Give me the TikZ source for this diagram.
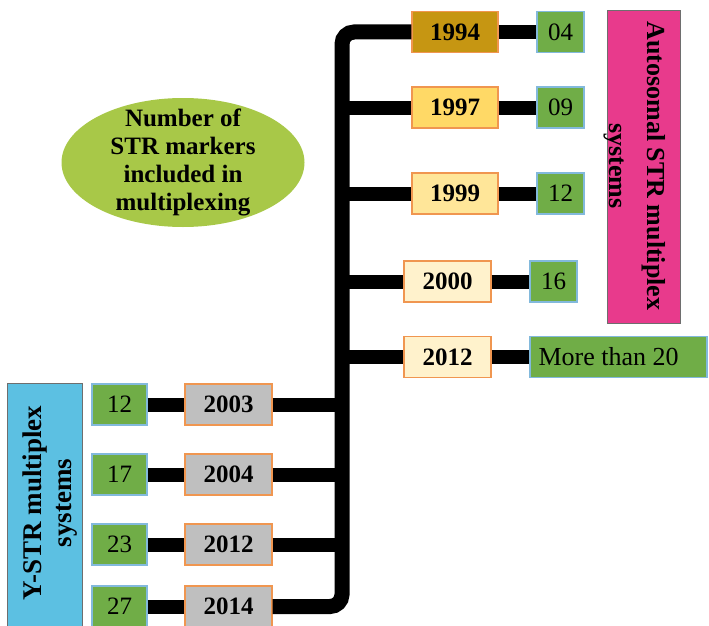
\documentclass[tikz,border=0pt]{standalone}
\usepackage{fontspec}
\setmainfont{Liberation Serif}
\usetikzlibrary{shapes.geometric}

\definecolor{goldA}{RGB}{198,150,18}
\definecolor{goldB}{RGB}{255,217,102}
\definecolor{goldC}{RGB}{255,230,153}
\definecolor{goldD}{RGB}{255,242,204}
\definecolor{edgeOrange}{RGB}{240,150,80}
\definecolor{countGreen}{RGB}{112,173,71}
\definecolor{edgeBlue}{RGB}{130,185,220}
\definecolor{yearGray}{RGB}{191,191,191}
\definecolor{autoPink}{RGB}{232,58,140}
\definecolor{ystrCyan}{RGB}{92,192,226}
\definecolor{ovalGreen}{RGB}{168,200,72}
\definecolor{edgeGray}{RGB}{110,110,110}

\tikzset{
  yearbox/.style={draw=edgeOrange, line width=1.2pt, inner sep=0pt,
    minimum width=86pt, minimum height=41pt,
    font=\fontsize{25}{28}\selectfont\bfseries},
  countbox/.style={draw=edgeBlue, fill=countGreen, line width=1.2pt, inner sep=0pt,
    minimum width=47pt, minimum height=41pt,
    font=\fontsize{25}{28}\selectfont},
  groupbox/.style={draw=edgeGray, line width=1pt, inner sep=0pt},
  grouptext/.style={inner sep=0pt, align=center},
  bar/.style={line width=14pt, black},
  trunkline/.style={line width=15pt, black, rounded corners=12pt},
}

\begin{document}
\begin{tikzpicture}[x=1pt,y=-1pt]
\useasboundingbox (0,0) rectangle (709,626);
\clip (0,0) rectangle (709,626);

% x position of the main vertical line
\coordinate (trunk) at (342,0);

% autosomal years (right branch)
\node[yearbox, fill=goldA] (y1994) at (455,32) {1994};
\node[yearbox, fill=goldB] (y1997) at (455,107.5) {1997};
\node[yearbox, fill=goldC] (y1999) at (455,193.5) {1999};
\node[yearbox, fill=goldD, minimum width=87pt] (y2000) at (447.5,281.5) {2000};
\node[yearbox, fill=goldD, minimum width=87pt] (y2012a) at (447.5,357) {2012};

% autosomal marker counts
\node[countbox] (n04) at (560.5,32) {04};
\node[countbox] (n09) at (560.5,107.5) {09};
\node[countbox] (n12a) at (560.5,193.5) {12};
\node[countbox] (n16) at (553.5,281.5) {16};
\node[countbox, minimum width=177pt] (nmore) at (618.5,357) {};
\node[anchor=west, inner sep=0pt, font=\fontsize{26}{28}\selectfont]
  (moretext) at ([xshift=9pt]nmore.west) {More than 20};

% Y-STR years (left branch)
\node[yearbox, fill=yearGray, minimum width=87pt] (y2003) at (228.5,404.5) {2003};
\node[yearbox, fill=yearGray, minimum width=87pt] (y2004) at (228.5,474.5) {2004};
\node[yearbox, fill=yearGray, minimum width=87pt] (y2012b) at (228.5,544.5) {2012};
\node[yearbox, fill=yearGray, minimum width=87pt] (y2014) at (228.5,606.5) {2014};

% Y-STR marker counts
\node[countbox, minimum width=55pt] (n12b) at (119.5,404.5) {12};
\node[countbox, minimum width=55pt] (n17) at (119.5,474.5) {17};
\node[countbox, minimum width=55pt] (n23) at (119.5,544.5) {23};
\node[countbox, minimum width=55pt] (n27) at (119.5,606.5) {27};

% group labels
\node[groupbox, fill=autoPink, minimum width=73pt, minimum height=312pt]
  (auto) at (643.5,167) {};
\node[grouptext, rotate=-90, font=\fontsize{26}{38}\selectfont\bfseries]
  (autotext) at (635,166) {Autosomal STR multiplex\\systems};
\node[groupbox, fill=ystrCyan, minimum width=75pt, minimum height=250pt]
  (ystr) at (44.5,508) {};
\node[grouptext, rotate=90, font=\fontsize{27}{30}\selectfont\bfseries]
  (ystrtext) at (50.5,503) {Y-STR multiplex\\systems};

% caption oval
\node[ellipse, fill=ovalGreen, minimum width=243pt, minimum height=129pt,
  inner sep=0pt] (oval) at (183,162.5) {};
\node[grouptext, font=\fontsize{25}{28.3}\selectfont\bfseries]
  (ovaltext) at (oval.center) {Number of\\STR markers\\included in\\multiplexing};

% main trunk from the first year down to the last one
\draw[trunkline] (y1994.west) -- (y1994.west -| trunk) |- (y2014.east);

% branches off the trunk
\foreach \yr in {y1997,y1999,y2000,y2012a}
  \draw[bar] (\yr.west -| trunk) -- (\yr.west);
\foreach \yr in {y2003,y2004,y2012b}
  \draw[bar] (\yr.east) -- (\yr.east -| trunk);

% year-to-count links
\draw[bar] (y1994.east) -- (n04.west);
\draw[bar] (y1997.east) -- (n09.west);
\draw[bar] (y1999.east) -- (n12a.west);
\draw[bar] (y2000.east) -- (n16.west);
\draw[bar] (y2012a.east) -- (nmore.west);
\draw[bar] (n12b.east) -- (y2003.west);
\draw[bar] (n17.east) -- (y2004.west);
\draw[bar] (n23.east) -- (y2012b.west);
\draw[bar] (n27.east) -- (y2014.west);
\end{tikzpicture}
\end{document}
